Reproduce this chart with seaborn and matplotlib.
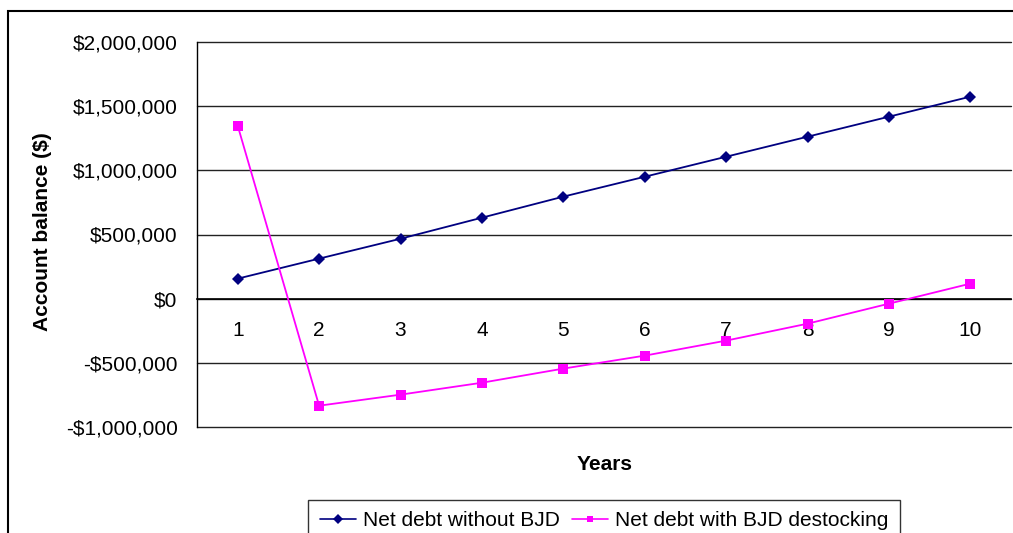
import matplotlib
matplotlib.use("Agg")
import matplotlib.pyplot as plt
import matplotlib.ticker as mticker
from matplotlib.patches import Rectangle
from matplotlib.lines import Line2D
import seaborn as sns
import pandas as pd

years = [1, 2, 3, 4, 5, 6, 7, 8, 9, 10]
without_bjd = [156000, 312000, 467000, 631000, 795000, 950000, 1106000, 1262000, 1418000, 1574000]
with_bjd = [1348000, -834000, -748000, -655000, -545000, -444000, -327000, -195000, -39000, 117000]
series_names = ["Net debt without BJD", "Net debt with BJD destocking"]
colors = ["#000080", "#FF00FF"]
y_ticks = [-1000000, -500000, 0, 500000, 1000000, 1500000, 2000000]

sns.set_style("white")
plt.rcParams["font.family"] = ["Liberation Sans", "DejaVu Sans"]
plt.rcParams["text.color"] = "black"
plt.rcParams["axes.labelcolor"] = "black"
plt.rcParams["xtick.color"] = "black"
plt.rcParams["ytick.color"] = "black"

df = pd.DataFrame({
    "Year": years * 2,
    "Value": without_bjd + with_bjd,
    "Series": [series_names[0]] * len(years) + [series_names[1]] * len(years),
})

W, H = 1013, 533
fig = plt.figure(figsize=(W / 100, H / 100), dpi=100)
ax = fig.add_axes([197 / W, 1 - 427 / H, (1011 - 197) / W, (427 - 42) / H])

sns.lineplot(data=df, x="Year", y="Value", hue="Series", style="Series",
             palette=dict(zip(series_names, colors)),
             markers={series_names[0]: "D", series_names[1]: "s"},
             dashes=False, markersize=6.5, markeredgewidth=0, linewidth=1.3,
             legend=False, ax=ax, zorder=3)

ax.set_xlim(0.5, 10.5)
ax.set_ylim(-1000000, 2000000)
ax.set_yticks(y_ticks)

def fmt(v, pos):
    v = int(round(v))
    return f"-${abs(v):,}" if v < 0 else f"${v:,}"

ax.yaxis.set_major_formatter(mticker.FuncFormatter(fmt))
ax.grid(axis="y", color="#222222", linewidth=1.0)
ax.set_axisbelow(True)
for gl in ax.get_ygridlines():
    gl.set_clip_on(False)

for s in ["top", "right"]:
    ax.spines[s].set_visible(False)
ax.spines["left"].set_color("black")
ax.spines["left"].set_linewidth(1.0)
ax.spines["bottom"].set_position(("data", 0))
ax.spines["bottom"].set_color("black")
ax.spines["bottom"].set_linewidth(1.2)

# category boundaries as major ticks, labels at centers as minor ticks
ax.set_xticks([x + 0.5 for x in years[:-1]] + [0.5])
ax.set_xticklabels([])
ax.set_xticks(years, minor=True)
ax.set_xticklabels([str(y) for y in years], minor=True)
ax.tick_params(axis="x", which="major", direction="out", length=4, width=1, color="black")
ax.tick_params(axis="x", which="minor", length=0, pad=16, labelsize=15, labelcolor="black")
ax.tick_params(axis="y", direction="out", length=5, width=1, color="black",
               labelsize=15, pad=9, labelcolor="black")

ax.set_xlabel("")
ax.set_ylabel("")
fig.text(43 / W, 1 - 232 / H, "Account balance ($)", rotation=90, ha="center", va="center",
         fontsize=15, fontweight="bold", color="black")
fig.text(605 / W, 1 - 465 / H, "Years", ha="center", va="center", fontsize=15,
         fontweight="bold", color="black")

handles = [Line2D([0], [0], color=colors[0], marker="D", markersize=5, markeredgewidth=0, lw=1.2),
           Line2D([0], [0], color=colors[1], marker="s", markersize=5, markeredgewidth=0, lw=1.2)]
leg = fig.legend(handles, series_names, loc="upper center", ncol=2,
                 bbox_to_anchor=(604 / W, 1 - 500 / H), frameon=True,
                 fontsize=15, fancybox=False, handlelength=1.75, handletextpad=0.3,
                 columnspacing=0.6, borderpad=0.55, borderaxespad=0)
leg.get_frame().set_edgecolor("black")
leg.get_frame().set_linewidth(1.0)
for t in leg.get_texts():
    t.set_color("black")

fig.patches.append(Rectangle((8 / W, -0.1), 1.2, 1.1 - 11 / H, transform=fig.transFigure,
                             fill=False, edgecolor="black", linewidth=1.5))

fig.savefig("out.png", dpi=100)
